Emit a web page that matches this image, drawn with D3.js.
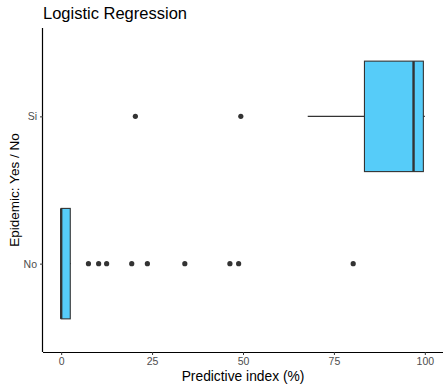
<!DOCTYPE html>
<html>
<head>
<meta charset="utf-8">
<script src="https://cdn.jsdelivr.net/npm/d3@7"></script>
<style>
  body { margin: 0; background: #fff; }
  svg { font-family: "Liberation Sans", Arial, sans-serif; }
</style>
</head>
<body>
<div id="chart"></div>
<script>
// Categories (bottom to top)
const groups = ["No", "Si"];

// Box statistics per group: [lower whisker, q1, median, q3, upper whisker]
const statsNo = [0, 0, 0, 2.5, 2.7];
const statsSi = [67.8, 83.4, 96.9, 99.6, 100];

// Outliers per group
const outliersNo = [7.5, 10.3, 12.5, 19.4, 23.7, 34.0, 46.4, 48.8, 80.3];
const outliersSi = [20.4, 49.4];

const xTicks = [0, 25, 50, 75, 100];

const margin = {top: 28, right: 5, bottom: 37, left: 43},
      width = 448 - margin.left - margin.right,
      height = 389 - margin.top - margin.bottom;

const boxes = [
  {g: "No", s: statsNo, out: outliersNo},
  {g: "Si", s: statsSi, out: outliersSi}
];

const svg = d3.select("#chart").append("svg")
    .attr("width", 448)
    .attr("height", 389);

const g = svg.append("g")
    .attr("transform", "translate(" + margin.left + "," + margin.top + ")");

// x: 0..100 with ggplot-style 5% expansion
const x = d3.scaleLinear().domain([-5, 105]).range([0, width]);

// y: discrete with 0.6 expansion
const y = d3.scalePoint().domain(groups).range([height, 0]).padding(0.6);
const step = y.step();
const boxH = step * 0.75;

// whiskers
g.selectAll(".whisker")
  .data(boxes)
  .enter().append("line")
    .attr("x1", d => x(d.s[0]))
    .attr("x2", d => x(d.s[4]))
    .attr("y1", d => y(d.g))
    .attr("y2", d => y(d.g))
    .attr("stroke", "#333333")
    .attr("stroke-width", 1.1);

// boxes
g.selectAll(".box")
  .data(boxes)
  .enter().append("rect")
    .attr("x", d => x(d.s[1]))
    .attr("width", d => x(d.s[3]) - x(d.s[1]))
    .attr("y", d => y(d.g) - boxH / 2)
    .attr("height", boxH)
    .attr("fill", "#56CCF9")
    .attr("stroke", "#333333")
    .attr("stroke-width", 1.1);

// medians
g.selectAll(".median")
  .data(boxes)
  .enter().append("line")
    .attr("x1", d => x(d.s[2]))
    .attr("x2", d => x(d.s[2]))
    .attr("y1", d => y(d.g) - boxH / 2)
    .attr("y2", d => y(d.g) + boxH / 2)
    .attr("stroke", "#333333")
    .attr("stroke-width", 2.4);

// outliers
boxes.forEach(b => {
  g.selectAll(null)
    .data(b.out)
    .enter().append("circle")
      .attr("cx", d => x(d))
      .attr("cy", y(b.g))
      .attr("r", 2.6)
      .attr("fill", "#333333");
});

// axes
const xAxis = g.append("g")
    .attr("transform", "translate(0," + height + ")")
    .call(d3.axisBottom(x).tickValues(xTicks).tickSize(3).tickPadding(3).tickSizeOuter(0));
const yAxis = g.append("g")
    .call(d3.axisLeft(y).tickSize(3).tickPadding(3).tickSizeOuter(0));

[xAxis, yAxis].forEach(a => {
  a.select(".domain").attr("stroke", "#000").attr("stroke-width", 1.2);
  a.selectAll(".tick line").attr("stroke", "#333333");
  a.selectAll(".tick text").attr("fill", "#4d4d4d").style("font-size", "10.5px")
    .style("font-family", "'Liberation Sans', Arial, sans-serif");
});
// extend domains to the full panel
xAxis.select(".domain").attr("d", "M0,0.5H" + width);
yAxis.select(".domain").attr("d", "M-0.5,0V" + height);

// axis titles
svg.append("text")
    .attr("x", margin.left + width / 2)
    .attr("y", 381)
    .attr("text-anchor", "middle")
    .style("font-size", "13.8px")
    .text("Predictive index (%)");

svg.append("text")
    .attr("transform", "translate(19," + (margin.top + height / 2) + ") rotate(-90)")
    .attr("text-anchor", "middle")
    .style("font-size", "13.5px")
    .text("Epidemic: Yes / No");

// title
svg.append("text")
    .attr("x", margin.left)
    .attr("y", 19)
    .style("font-size", "16.5px")
    .text("Logistic Regression");
</script>
</body>
</html>
